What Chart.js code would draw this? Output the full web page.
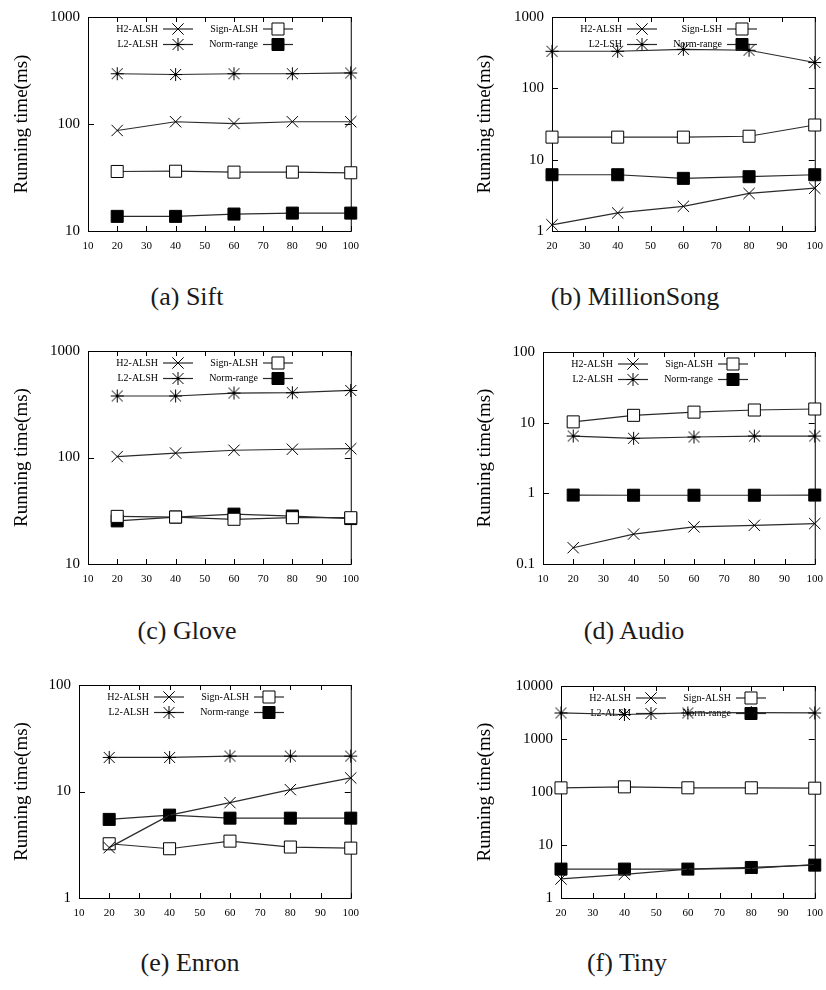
<!DOCTYPE html>
<html>
<head>
<meta charset="utf-8">
<script src="https://cdn.jsdelivr.net/npm/chart.js@4.4.0/dist/chart.umd.min.js"></script>
<style>
  body { margin: 0; background: #fff; width: 826px; height: 990px; position: relative; overflow: hidden; }
  canvas { position: absolute; }
  .cap { position: absolute; width: 300px; text-align: center; font-family: "Liberation Serif", serif; font-size: 26px; color: #1a1a1a; }
</style>
</head>
<body>
<div id="wrap"></div>
<script>
// series names (panel b uses LSH names)
const namesALSH = ['H2-ALSH', 'L2-ALSH', 'Sign-ALSH', 'Norm-range'];
const namesLSH = ['H2-ALSH', 'L2-LSH', 'Sign-LSH', 'Norm-range'];
const kValues = [20, 40, 60, 80, 100];

// (a) Sift
const siftH2 = [87, 105, 101, 105, 105];
const siftL2 = [295, 290, 295, 295, 300];
const siftSign = [36, 36.2, 35.5, 35.5, 35];
const siftNorm = [13.7, 13.7, 14.4, 14.7, 14.7];

// (b) MillionSong
const msH2 = [1.22, 1.79, 2.22, 3.36, 3.98];
const msL2 = [331, 331, 352, 342, 230];
const msSign = [20.7, 20.7, 20.7, 21.3, 30.6];
const msNorm = [6.15, 6.15, 5.47, 5.77, 6.15];

// (c) Glove
const gloveH2 = [102, 110, 117, 119.5, 121];
const gloveL2 = [378, 378, 403, 406, 426];
const gloveSign = [28, 27.6, 26.3, 27.2, 27.2];
const gloveNorm = [25.4, 27.6, 29.4, 28.2, 26.7];

// (d) Audio
const audioH2 = [0.17, 0.265, 0.335, 0.353, 0.373];
const audioL2 = [6.47, 6.01, 6.27, 6.47, 6.47];
const audioSign = [10.26, 12.7, 14.1, 15.1, 15.6];
const audioNorm = [0.945, 0.94, 0.94, 0.94, 0.945];

// (e) Enron
const enronH2 = [2.97, 6.0, 7.85, 10.4, 13.4];
const enronL2 = [20.9, 20.9, 21.5, 21.5, 21.5];
const enronSign = [3.23, 2.9, 3.42, 3.01, 2.94];
const enronNorm = [5.47, 6.0, 5.62, 5.62, 5.62];

// (f) Tiny
const tinyH2 = [2.29, 2.8, 3.5, 3.61, 4.29];
const tinyL2 = [3100, 2900, 3100, 3150, 3100];
const tinySign = [119.6, 125, 120, 120, 118];
const tinyNorm = [3.51, 3.51, 3.51, 3.77, 4.17];

const yTitle = 'Running time(ms)';

// frame = [left, top, right, bottom] of the plot box on the page
const panels = [
  { caption: '(a) Sift', names: namesALSH, series: [siftH2, siftL2, siftSign, siftNorm], xMin: 10, yMin: 10, yMax: 1000, frame: [88, 14, 353, 231], canvasLeft: 0, capX: 187, capY: 282 },
  { caption: '(b) MillionSong', names: namesLSH, series: [msH2, msL2, msSign, msNorm], xMin: 20, yMin: 1, yMax: 1000, frame: [552, 14, 817, 231], canvasLeft: 463, capX: 635, capY: 282 },
  { caption: '(c) Glove', names: namesALSH, series: [gloveH2, gloveL2, gloveSign, gloveNorm], xMin: 10, yMin: 10, yMax: 1000, frame: [88, 348, 353, 564], canvasLeft: 0, capX: 187, capY: 616 },
  { caption: '(d) Audio', names: namesALSH, series: [audioH2, audioL2, audioSign, audioNorm], xMin: 10, yMin: 0.1, yMax: 100, frame: [543, 349, 817, 564], canvasLeft: 463, capX: 634, capY: 616 },
  { caption: '(e) Enron', names: namesALSH, series: [enronH2, enronL2, enronSign, enronNorm], xMin: 10, yMin: 1, yMax: 100, frame: [79, 682, 353, 898], canvasLeft: 0, capX: 190, capY: 948 },
  { caption: '(f) Tiny', names: namesALSH, series: [tinyH2, tinyL2, tinySign, tinyNorm], xMin: 20, yMin: 1, yMax: 10000, frame: [561, 683, 817, 898], canvasLeft: 463, capX: 627, capY: 948 }
];

// gnuplot-like asterisk: plus and cross of the same box size
function asterisk() {
  const c = document.createElement('canvas');
  c.width = 15; c.height = 15;
  const g = c.getContext('2d');
  g.strokeStyle = '#000';
  g.lineWidth = 1;
  g.beginPath();
  g.moveTo(7.5, 1); g.lineTo(7.5, 14);
  g.moveTo(1, 7.5); g.lineTo(14, 7.5);
  g.moveTo(2, 2); g.lineTo(13, 13);
  g.moveTo(13, 2); g.lineTo(2, 13);
  g.stroke();
  return c;
}

const markStyles = [
  { pointStyle: 'crossRot', radius: 8, fill: '#000' },
  { pointStyle: asterisk(), radius: 7, fill: '#000' },
  { pointStyle: 'rect', radius: 8.5, fill: '#fff' },
  { pointStyle: 'rect', radius: 8.5, fill: '#000' }
];
const lineColor = '#2a2a2a';
const serif = '"Liberation Serif", "Times New Roman", serif';

// frame, inward tics and gnuplot style key
const gnuFrame = {
  id: 'gnuFrame',
  beforeDatasetsDraw(chart) {
    const { ctx, chartArea: a, scales } = chart;
    ctx.save();
    ctx.strokeStyle = '#000';
    ctx.lineWidth = 1;
    ctx.strokeRect(a.left + 0.5, a.top + 0.5, a.right - a.left, a.bottom - a.top);
    ctx.beginPath();
    scales.x.ticks.forEach(t => {
      const px = Math.round(scales.x.getPixelForValue(t.value)) + 0.5;
      ctx.moveTo(px, a.bottom); ctx.lineTo(px, a.bottom - 5);
      ctx.moveTo(px, a.top); ctx.lineTo(px, a.top + 5);
    });
    scales.y.ticks.forEach(t => {
      const py = Math.round(scales.y.getPixelForValue(t.value)) + 0.5;
      ctx.moveTo(a.left, py); ctx.lineTo(a.left + 6, py);
      ctx.moveTo(a.right, py); ctx.lineTo(a.right - 6, py);
    });
    ctx.stroke();

    // key
    ctx.font = '10px ' + serif;
    ctx.textAlign = 'right';
    ctx.textBaseline = 'middle';
    chart.data.datasets.forEach((ds, i) => {
      const col = Math.floor(i / 2), row = i % 2;
      const tx = a.left + 70 + col * 100;
      const ty = a.top + 12 + row * 15.5;
      ctx.fillStyle = '#000';
      ctx.fillText(ds.label, tx, ty);
      ctx.strokeStyle = lineColor;
      ctx.lineWidth = 1.2;
      ctx.beginPath();
      ctx.moveTo(tx + 5, ty); ctx.lineTo(tx + 35, ty);
      ctx.stroke();
      const m = markStyles[i];
      ctx.strokeStyle = '#000';
      ctx.fillStyle = m.fill;
      ctx.lineWidth = 1;
      Chart.helpers.drawPoint(ctx, { pointStyle: m.pointStyle, radius: m.radius, rotation: 0, borderWidth: 1 }, tx + 20, ty);
    });
    ctx.restore();
  }
};

const wrap = document.getElementById('wrap');

panels.forEach(p => {
  const [fl, ft, fr, fb] = p.frame;
  const canvas = document.createElement('canvas');
  const top = ft - 14;
  const w = fr + 15 - p.canvasLeft;
  const h = fb - top + 32;
  canvas.width = w; canvas.height = h;
  canvas.style.left = p.canvasLeft + 'px';
  canvas.style.top = top + 'px';
  canvas.style.width = w + 'px';
  canvas.style.height = h + 'px';
  wrap.appendChild(canvas);

  const cap = document.createElement('div');
  cap.className = 'cap';
  cap.textContent = p.caption;
  cap.style.left = (p.capX - 150) + 'px';
  cap.style.top = p.capY + 'px';
  wrap.appendChild(cap);

  const datasets = p.series.map((vals, i) => ({
    label: p.names[i],
    data: kValues.map((k, j) => ({ x: k, y: vals[j] })),
    borderColor: lineColor,
    borderWidth: 1.2,
    pointStyle: markStyles[i].pointStyle,
    pointRadius: markStyles[i].radius,
    pointBorderColor: '#000',
    pointBackgroundColor: markStyles[i].fill,
    pointBorderWidth: 1,
    tension: 0,
    clip: false
  }));

  const axisW = fl - p.canvasLeft;
  new Chart(canvas, {
    type: 'line',
    data: { datasets },
    options: {
      responsive: false,
      animation: false,
      events: [],
      layout: { padding: { top: 14, right: 15, left: 0, bottom: 0 } },
      plugins: { legend: { display: false }, tooltip: { enabled: false } },
      scales: {
        x: {
          type: 'linear', min: p.xMin, max: 100,
          grid: { display: false, drawTicks: false },
          border: { display: false },
          ticks: { stepSize: 10, autoSkip: false, maxRotation: 0, padding: 9, color: '#000', font: { family: serif, size: 11 } },
          afterFit: s => { s.height = 32; }
        },
        y: {
          type: 'logarithmic', min: p.yMin, max: p.yMax,
          grid: { display: false, drawTicks: false },
          border: { display: false },
          afterBuildTicks: s => {
            const t = [];
            for (let e = Math.round(Math.log10(p.yMin)); e <= Math.round(Math.log10(p.yMax)); e++) {
              t.push({ value: Math.pow(10, e) });
            }
            s.ticks = t;
          },
          ticks: { padding: 8, color: '#000', font: { family: serif, size: 15 }, callback: v => String(v) },
          title: { display: true, text: yTitle, color: '#000', font: { family: serif, size: 19 }, padding: { top: 10.6, bottom: 0 } },
          afterFit: s => { s.width = axisW; }
        }
      }
    },
    plugins: [gnuFrame]
  });
});
</script>
</body>
</html>
